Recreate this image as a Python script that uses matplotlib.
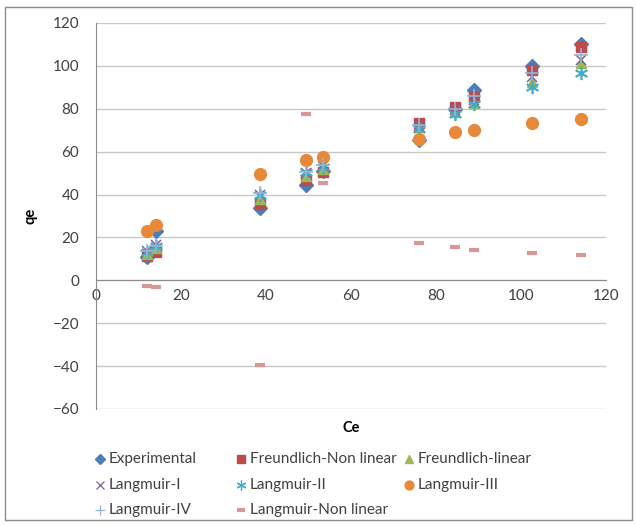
import matplotlib
matplotlib.use("Agg")
import matplotlib.pyplot as plt
from matplotlib.patches import Rectangle

plt.rcParams['font.family'] = ['Lato', 'DejaVu Sans']

# equilibrium concentration and uptake for each isotherm model
ce = [12, 14, 38.5, 49.5, 53.5, 76, 84.5, 89, 102.5, 114]
experimental = [11, 23, 33.5, 44.5, 51, 65.5, 80, 88.7, 100, 110]
freundlich_nl = [11.2, 13, 35.5, 46.7, 50.5, 73.3, 81, 85.4, 98, 108.8]
freundlich_lin = [12.5, 15, 38, 48.5, 52, 71.4, 78.5, 82.6, 92.5, 101.3]
langmuir_1 = [13.5, 16.5, 40, 50, 53.5, 72, 79.5, 84, 95, 102.7]
langmuir_2 = [13, 16, 40, 50.4, 53, 70.5, 77.5, 82, 90, 96.6]
langmuir_3 = [23, 25.7, 49.5, 56.3, 57.4, 66, 69, 70, 73.3, 75.2]
langmuir_4 = [13.5, 16, 40.5, 50.5, 54, 72.4, 80, 86, 96.6, 105]
langmuir_nl = [-2.8, -3.3, -39.7, 77.5, 45.3, 17.3, 15.4, 14, 12.6, 11.7]

series = [
    ("Experimental", experimental, dict(marker='D', color='#4A7EBB', ms=7, mec='#4A7EBB')),
    ("Freundlich-Non linear", freundlich_nl, dict(marker='s', color='#BE4B48', ms=7, mec='#BE4B48')),
    ("Freundlich-linear", freundlich_lin, dict(marker='^', color='#98B954', ms=7, mec='#98B954')),
    ("Langmuir-I", langmuir_1, dict(marker='x', color='#7D60A0', ms=7.5, mew=1.1)),
    ("Langmuir-II", langmuir_2, dict(marker=(6, 2, 0), color='#46AAC5', ms=9.5, mew=1.2)),
    ("Langmuir-III", langmuir_3, dict(marker='o', color='#E8893A', ms=8.5, mec='#E8893A')),
    ("Langmuir-IV", langmuir_4, dict(marker='+', color='#95B3D7', ms=10, mew=1.2)),
    ("Langmuir-Non linear", langmuir_nl, dict(marker='_', color='#D99694', ms=7, mew=3)),
]

fig = plt.figure(figsize=(6.36, 5.26), dpi=100)
W, H = 636, 526

# outer chart border
fig.patches.append(Rectangle((5 / W, 1 - 520 / H), 627 / W, 513 / H, transform=fig.transFigure,
                             fill=False, ec='#8C8C8C', lw=1))

ax = fig.add_axes([96 / W, 1 - 409 / H, 510 / W, 386 / H])
for name, ys, st in series:
    ax.plot(ce, ys, ls='none', label=name, **st)

ax.set_xlim(0, 120)
ax.set_ylim(-60, 120)
ax.set_xticks(range(0, 121, 20))
ax.set_yticks(range(-60, 121, 20))
ax.yaxis.grid(True, color='#C8C8C8', lw=1)
ax.set_axisbelow(True)
for s in ['top', 'right']:
    ax.spines[s].set_visible(False)
ax.spines['bottom'].set_position(('data', 0))
ax.spines['bottom'].set_color('#8C8C8C')
ax.spines['left'].set_color('#8C8C8C')
ax.tick_params(axis='both', length=0, labelsize=11, colors='#404040', pad=6)
ax.tick_params(axis='y', pad=12)
ax.set_xlabel('Ce', fontsize=10.5, fontweight='bold', labelpad=0)
ax.xaxis.set_label_coords(0.5, -0.03)
ax.set_ylabel('qe', fontsize=10.5, fontweight='bold', labelpad=0)
ax.yaxis.set_label_coords(-0.115, 0.5)

# legend laid out in three fixed-width columns, with smaller symbols
leg = fig.add_axes([0, 0, 1, 1])
leg.set_xlim(0, W)
leg.set_ylim(H, 0)
leg.axis('off')
col_x = [100, 241, 409]
row_y = [459, 485, 510]
for i, (name, ys, st) in enumerate(series):
    r, c = divmod(i, 3)
    small = dict(st)
    small['ms'] = st['ms'] * 0.75
    if 'mew' in small and small['marker'] != '_':
        small['mew'] = 0.9
    leg.plot([col_x[c]], [row_y[r]], ls='none', **small)
    leg.text(col_x[c] + 9, row_y[r], name, fontsize=11, color='#404040', va='center', ha='left')

fig.savefig('out.png', dpi=100)
